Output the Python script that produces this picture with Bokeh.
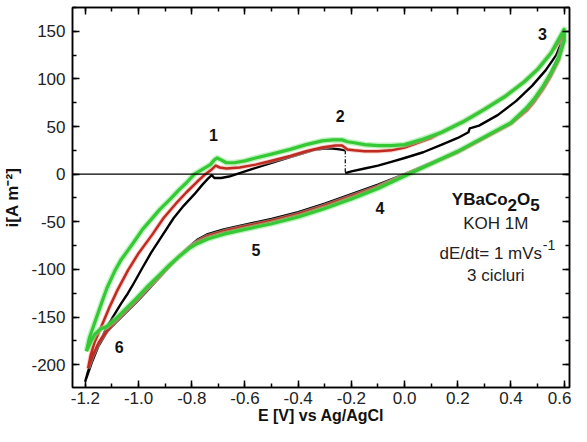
from bokeh.plotting import figure
from bokeh.models import Range1d, LinearAxis, FixedTicker, Span
from bokeh.core.properties import value
from bokeh.embed import file_html
from bokeh.resources import INLINE

# ---------------- data ----------------
# cycle 1 (black): starts at open-circuit potential, anodic to 0.6, cathodic to -1.2, anodic back
black_start_E = [-0.223, -0.20, -0.15, -0.10, -0.05, 0.0, 0.07, 0.14, 0.20, 0.24, 0.245, 0.28, 0.35, 0.42, 0.48, 0.53, 0.57, 0.60]
black_start_i = [1, 3, 6, 9, 13, 17, 23, 31, 38, 44, 48, 51, 62, 77, 93, 109, 125, 145]
black_down_E = [0.60, 0.58, 0.55, 0.52, 0.49, 0.46, 0.43, 0.40, 0.36, 0.32, 0.28, 0.20, 0.10, 0.0, -0.10, -0.20, -0.30, -0.40, -0.50, -0.60, -0.68, -0.74, -0.78, -0.81, -0.85, -0.89, -0.93, -0.97, -1.01, -1.05, -1.09, -1.12, -1.15, -1.175, -1.20]
black_down_i = [145, 124, 107, 92, 80, 70, 62, 54, 48, 42, 36, 24, 12, 0, -11, -21, -31, -40, -47, -53, -58, -63, -69, -76, -87, -99, -111, -123, -135, -146, -157, -166, -180, -197, -217]
black_up_E = [-1.20, -1.19, -1.175, -1.155, -1.135, -1.118, -1.09, -1.066, -1.04, -1.017, -0.985, -0.954, -0.91, -0.868, -0.83, -0.79, -0.76, -0.74, -0.725, -0.715, -0.69, -0.66, -0.60, -0.56, -0.50, -0.43, -0.38, -0.34, -0.30, -0.27, -0.245, -0.223]
black_up_i = [-217, -207, -196, -180, -170, -160, -147, -136, -125, -114, -98, -83, -64, -46, -33, -21, -11, -5, -1, -4, -4, -2.5, 3, 6.5, 12, 18, 22, 25.5, 27, 27, 26, 25]

# cycle 2 (red)
red_up_E = [-1.19, -1.18, -1.165, -1.14, -1.11, -1.08, -1.04, -1.0, -0.95, -0.906, -0.86, -0.82, -0.78, -0.749, -0.725, -0.71, -0.695, -0.67, -0.62, -0.56, -0.50, -0.43, -0.37, -0.31, -0.26, -0.235, -0.215, -0.19, -0.15, -0.10, -0.05, 0.0, 0.05, 0.10, 0.14, 0.22, 0.30, 0.38, 0.45, 0.50, 0.55, 0.60]
red_up_i = [-204, -190, -176, -160, -140, -122, -101, -83, -64, -46, -31, -19, -8, 0, 5, 9, 7, 6, 7, 10, 14, 19, 24, 28, 30, 30, 26, 25, 24, 24, 25, 28, 33, 38, 44, 55, 68, 82, 97, 110, 127, 146]
red_down_E = [0.60, 0.58, 0.55, 0.52, 0.49, 0.46, 0.43, 0.40, 0.36, 0.32, 0.28, 0.20, 0.10, 0.0, -0.10, -0.20, -0.30, -0.40, -0.50, -0.60, -0.68, -0.74, -0.78, -0.81, -0.85, -0.89, -0.93, -0.97, -1.01, -1.05, -1.09, -1.12, -1.15, -1.175, -1.19]
red_down_i = [142, 120, 103, 89, 77, 67, 60, 53, 47, 41, 35, 23, 11, -1, -13, -23, -33, -42, -49, -55, -60, -65, -71, -77, -87, -98, -110, -121, -133, -144, -155, -165, -177, -192, -204]

# cycle 3 (green)
green_up_E = [-1.196, -1.185, -1.170, -1.155, -1.135, -1.118, -1.09, -1.066, -1.04, -1.017, -0.985, -0.954, -0.92, -0.88, -0.85, -0.82, -0.79, -0.76, -0.73, -0.715, -0.705, -0.69, -0.67, -0.64, -0.60, -0.56, -0.50, -0.43, -0.37, -0.31, -0.27, -0.235, -0.215, -0.19, -0.15, -0.10, -0.05, 0.0, 0.07, 0.14, 0.22, 0.30, 0.38, 0.45, 0.50, 0.55, 0.60]
green_up_i = [-186, -172, -160, -148, -132, -119, -102, -90, -80, -71, -58, -48, -37, -26, -17, -9, 0, 5, 10, 15, 17, 15, 12, 12, 14, 17, 21, 26, 31, 35, 36, 36, 34, 33, 31, 30, 30, 31, 37, 44, 55, 68, 82, 97, 110, 127, 152]
green_down_E = [0.60, 0.58, 0.55, 0.52, 0.49, 0.46, 0.43, 0.40, 0.36, 0.32, 0.28, 0.20, 0.10, 0.0, -0.10, -0.20, -0.30, -0.40, -0.50, -0.60, -0.68, -0.74, -0.78, -0.81, -0.85, -0.89, -0.93, -0.97, -1.01, -1.05, -1.09, -1.12, -1.145, -1.165, -1.18, -1.196]
green_down_i = [140, 122, 106, 92, 80, 70, 62, 54, 48, 42, 36, 24, 11, -2, -15, -26, -36, -45, -52, -58, -63, -68, -73, -78, -87, -97, -108, -119, -131, -142, -153, -160, -163, -168, -176, -186]

# axes ticks
x_ticks = [-1.2, -1.0, -0.8, -0.6, -0.4, -0.2, 0.0, 0.2, 0.4, 0.6]
x_tick_labels = ["-1.2", "-1.0", "-0.8", "-0.6", "-0.4", "-0.2", "0.0", "0.2", "0.4", "0.6"]
x_minor = [-1.2, -1.1, -1.0, -0.9, -0.8, -0.7, -0.6, -0.5, -0.4, -0.3, -0.2, -0.1, 0.0, 0.1, 0.2, 0.3, 0.4, 0.5, 0.6]
y_ticks = [-200, -150, -100, -50, 0, 50, 100, 150]
y_tick_labels = ["-200", "-150", "-100", "-50", "0", "50", "100", "150"]
y_minor = [-225, -200, -175, -150, -125, -100, -75, -50, -25, 0, 25, 50, 75, 100, 125, 150, 175]

# peak labels
peak_names = ["1", "2", "3", "4", "5", "6"]
peak_E = [-0.719, -0.242, 0.518, -0.093, -0.559, -1.073]
peak_i = [41, 61, 147, -35, -80, -181]

# info block (centre E, line i)
info_E = 0.343
info_i = [-27, -52, -83, -106]

FONT = "Liberation Sans"

p = figure(width=571, height=426, x_range=Range1d(-1.2485, 0.62), y_range=Range1d(-224, 175),
           output_backend="svg", toolbar_location=None,
           min_border_left=70, min_border_right=2, min_border_top=7, min_border_bottom=0)
p.xgrid.visible = False
p.ygrid.visible = False
p.outline_line_color = "black"
p.outline_line_width = 1.5
p.background_fill_color = "white"
p.border_fill_color = "white"


def style_axis(ax, ticks, minor, labels, show):
    ax.ticker = FixedTicker(ticks=ticks, minor_ticks=minor)
    ax.axis_line_color = "black"
    ax.axis_line_width = 1.5
    ax.major_tick_in = 7
    ax.major_tick_out = 0
    ax.minor_tick_in = 4
    ax.minor_tick_out = 0
    ax.major_tick_line_width = 1.5
    ax.minor_tick_line_width = 1.5
    ax.major_tick_line_color = "black"
    ax.minor_tick_line_color = "black"
    ax.major_label_text_font = FONT
    ax.major_label_text_color = "#222222"
    if show:
        ax.major_label_text_font_size = "17px"
        ax.major_label_overrides = {t: s for t, s in zip(ticks, labels)}
    else:
        ax.major_label_text_font_size = "0px"
        ax.major_label_standoff = 0
        ax.major_label_overrides = {t: "" for t in ticks}


xa = p.xaxis[0]
ya = p.yaxis[0]
style_axis(xa, x_ticks, x_minor, x_tick_labels, True)
style_axis(ya, y_ticks, y_minor, y_tick_labels, True)
xa.major_label_standoff = 4
ya.major_label_standoff = 7
for ax, lab in ((xa, "E [V] vs Ag/AgCl"), (ya, "i[A m\u207b\u00b2]")):
    ax.axis_label = lab
    ax.axis_label_text_font = FONT
    ax.axis_label_text_font_style = "bold"
    ax.axis_label_text_font_size = "16px"
    ax.axis_label_text_color = "#111111"
xa.axis_label_standoff = 0
ya.axis_label_standoff = 6
ya.axis_label_text_font_size = "17px"

top = LinearAxis()
style_axis(top, x_ticks, x_minor, x_tick_labels, False)
p.add_layout(top, "above")
right = LinearAxis()
style_axis(right, y_ticks, y_minor, y_tick_labels, False)
p.add_layout(right, "right")

# zero line
p.add_layout(Span(location=0, dimension="width", line_color="black", line_width=1.2))

# curves: black first, then red, then green on top
red_E = red_up_E + red_down_E
red_i = red_up_i + red_down_i
green_E = green_up_E + green_down_E
green_i = green_up_i + green_down_i
black_E = black_start_E + black_down_E + black_up_E
black_i = black_start_i + black_down_i + black_up_i

p.line(black_E, black_i, line_color="black", line_width=2.4, line_join="round")
# dash-dot connector of cycle 1 at open-circuit potential
p.line([black_up_E[-1], black_start_E[0]], [black_up_i[-1], black_start_i[0]],
       line_color="black", line_width=1.2, line_dash="4 2 1 2")
p.line(red_E, red_i, line_color="#f2b0a8", line_width=4.5, line_alpha=0.6, line_join="round")
p.line(red_E, red_i, line_color="#c02a20", line_width=2.5, line_join="round")
p.line(green_E, green_i, line_color="#8ae88a", line_width=6, line_alpha=0.55, line_join="round")
p.line(green_E, green_i, line_color="#36c936", line_width=3.2, line_join="round")

# peak labels
p.text(x=peak_E, y=peak_i, text=peak_names, text_font=value(FONT), text_font_style="bold",
       text_font_size=value("16px"), text_align="center", text_baseline="middle", text_color="#111111")

# info block
p.text(x=[info_E] * 4, y=[info_i[0]] * 4, text=["YBaCo", "2", "O", "5"],
       x_offset=[-44, 11.7, 21.2, 34.4], y_offset=[0, 5, 0, 5],
       text_font=value(FONT), text_font_style="bold", text_font_size=value("17px"),
       text_align="left", text_baseline="middle", text_color="#111111")
p.text(x=[info_E] * 3, y=[info_i[1], info_i[2], info_i[3]], text=["KOH 1M", "dE/dt= 1 mVs", "3 cicluri"],
       x_offset=[0, -5, 0],
       text_font=value(FONT), text_font_size=value("17px"),
       text_align="center", text_baseline="middle", text_color="#222222")
p.text(x=[info_E], y=[info_i[2]], text=["-1"], x_offset=[47], y_offset=[-8],
       text_font=value(FONT), text_font_size=value("14px"),
       text_align="left", text_baseline="middle", text_color="#222222")

open("out.html", "w").write(file_html(p, INLINE))
